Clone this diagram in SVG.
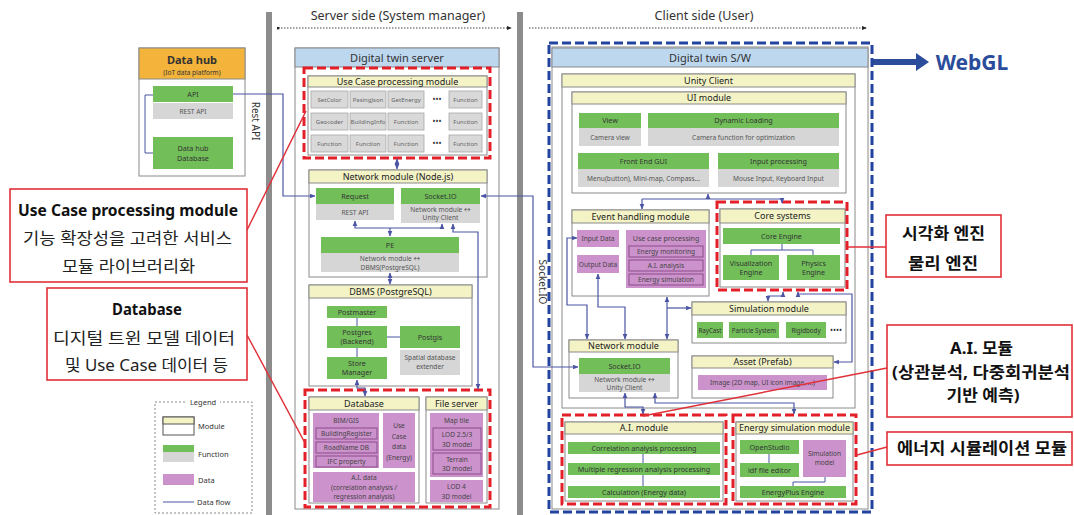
<svg xmlns="http://www.w3.org/2000/svg" width="1074" height="515" viewBox="0 0 1074 515">
<defs>
  <marker id="ar" viewBox="0 0 6 6" refX="5.5" refY="3" markerWidth="4.5" markerHeight="4.5" orient="auto-start-reverse">
    <path d="M0,0.4 L6,3 L0,5.6z" fill="#4B55A3"/>
  </marker>
  <marker id="tip" viewBox="0 0 6 6" refX="5" refY="3" markerWidth="5" markerHeight="5" orient="auto">
    <path d="M0,0.5 L6,3 L0,5.5z" fill="#222"/>
  </marker>
  <marker id="dot" viewBox="0 0 4 4" refX="2" refY="2" markerWidth="3" markerHeight="3">
    <circle cx="2" cy="2" r="2" fill="#222"/>
  </marker>
</defs>
<style>
  text{font-family:"Noto Sans","Noto Sans CJK KR",sans-serif;fill:#333;text-anchor:middle}
  .mod{fill:#fff;stroke:#8a8a8a;stroke-width:1}
  .hdr{fill:#F3F3C6;stroke:#8a8a8a;stroke-width:1}
  .blu{fill:#BDD7EE;stroke:#8a8a8a;stroke-width:1}
  .fn{fill:#72BF5A}
  .gy{fill:#D6D6D6}
  .cell{fill:#D9D9D9;stroke:#A8A8A8;stroke-width:0.8}
  .dt{fill:#CC92CC}
  .dti{fill:#CC92CC;stroke:#8B4D8B;stroke-width:1}
  .red{fill:none;stroke:#E3202A;stroke-width:3;stroke-dasharray:9 4}
  .conn{fill:none;stroke:#4B55A3;stroke-width:1.2}
  .ln{fill:none;stroke:#4B55A3;stroke-width:1}
  .co{fill:#fff;stroke:#E03038;stroke-width:1.6}
  .col{stroke:#E03038;stroke-width:1.5}
  .h{font-size:9px;fill:#222}
  .f{font-size:7.2px}
  .g{font-size:6.6px;fill:#555}
  .s{font-size:6px;fill:#666}
  .d{font-size:6.6px;fill:#444}
  .kb{font-size:16px;font-weight:700;fill:#111}
  .kr{font-size:16px;fill:#222}
</style>

<!-- side separators and headings -->
<g id="sides">
  <rect x="266" y="12" width="6" height="503" fill="#8C8C8C"/>
  <rect x="517" y="12" width="6" height="503" fill="#8C8C8C"/>
  <text x="398" y="20" style="font-size:12.5px">Server side (System manager)</text>
  <text x="704" y="20" style="font-size:12.5px">Client side (User)</text>
  <path d="M278,28 H511" stroke="#444" stroke-width="1" stroke-dasharray="1.5 1.5" fill="none" marker-start="url(#dot)" marker-end="url(#tip)"/>
  <path d="M529,28 H866" stroke="#444" stroke-width="1" stroke-dasharray="1.5 1.5" fill="none" marker-end="url(#tip)"/>
  <text transform="translate(252,121) rotate(90)" style="font-size:10px">Rest API</text>
  <text transform="translate(539,282) rotate(90)" style="font-size:10px">Socket.IO</text>
</g>

<!-- Data hub -->
<g id="data-hub">
  <rect x="139" y="48" width="106" height="128" class="mod"/>
  <rect x="139" y="48" width="106" height="31" fill="#F4B33A" stroke="#8a8a8a"/>
  <text x="192" y="64" style="font-size:11px;font-weight:700">Data hub</text>
  <text x="192" y="75" style="font-size:6.5px">(IoT data platform)</text>
  <rect x="153" y="86" width="80" height="16" class="fn"/>
  <text x="193" y="96.5" class="f">API</text>
  <rect x="153" y="103" width="80" height="16" class="gy"/>
  <text x="193" y="113.5" class="g">REST API</text>
  <rect x="153" y="137" width="80" height="32" class="fn"/>
  <text x="193" y="151" class="f">Data hub</text>
  <text x="193" y="161" class="f">Database</text>
</g>

<!-- Digital twin server -->
<g id="digital-twin-server">
  <rect x="295" y="48" width="204" height="461" class="mod"/>
  <rect x="295" y="48" width="204" height="19" class="blu"/>
  <text x="397" y="61.5" style="font-size:11px">Digital twin server</text>
</g>

<g id="use-case-module">
  <rect x="308" y="76" width="179" height="79" class="mod"/>
  <rect x="308" y="76" width="179" height="11" class="hdr"/>
  <text x="397.5" y="84.8" class="h">Use Case processing module</text>
  <g class="cells">
    <rect x="311" y="91" width="37" height="17" class="cell"/><text x="329.5" y="102" class="s">SetColor</text>
    <rect x="350" y="91" width="36" height="17" class="cell"/><text x="368" y="102" class="s">PasingJson</text>
    <rect x="388" y="91" width="36" height="17" class="cell"/><text x="406" y="102" class="s">GetEnergy</text>
    <text x="437" y="102" style="font-size:8px;fill:#333">•••</text>
    <rect x="449" y="91" width="33" height="17" class="cell"/><text x="465.5" y="102" class="s">Function</text>
    <rect x="311" y="113" width="37" height="17" class="cell"/><text x="329.5" y="124" class="s">Geocoder</text>
    <rect x="350" y="113" width="36" height="17" class="cell"/><text x="368" y="124" class="s">BuildingInfo</text>
    <rect x="388" y="113" width="36" height="17" class="cell"/><text x="406" y="124" class="s">Function</text>
    <text x="437" y="124" style="font-size:8px;fill:#333">•••</text>
    <rect x="449" y="113" width="33" height="17" class="cell"/><text x="465.5" y="124" class="s">Function</text>
    <rect x="311" y="135" width="37" height="17" class="cell"/><text x="329.5" y="146" class="s">Function</text>
    <rect x="350" y="135" width="36" height="17" class="cell"/><text x="368" y="146" class="s">Function</text>
    <rect x="388" y="135" width="36" height="17" class="cell"/><text x="406" y="146" class="s">Function</text>
    <text x="437" y="146" style="font-size:8px;fill:#333">•••</text>
    <rect x="449" y="135" width="33" height="17" class="cell"/><text x="465.5" y="146" class="s">Function</text>
  </g>
  <rect x="304" y="68" width="186" height="90" class="red"/>
</g>

<g id="network-module-server">
  <rect x="309" y="170" width="178" height="107" class="mod"/>
  <rect x="309" y="170" width="178" height="13" class="hdr"/>
  <text x="398" y="179.8" class="h">Network module (Node.js)</text>
  <rect x="316" y="188" width="78" height="16" class="fn"/>
  <text x="355" y="198.5" class="f">Request</text>
  <rect x="316" y="204" width="78" height="16" class="gy"/>
  <text x="355" y="214.5" class="g">REST API</text>
  <rect x="401" y="188" width="79" height="16" class="fn"/>
  <text x="440.5" y="198.5" class="f">Socket.IO</text>
  <rect x="401" y="204" width="79" height="19" class="gy"/>
  <text x="440.5" y="212" class="g">Network module ↔</text>
  <text x="440.5" y="220" class="g">Unity Client</text>
  <rect x="321" y="237" width="138" height="16" class="fn"/>
  <text x="390" y="247.5" class="f">PE</text>
  <rect x="321" y="253" width="138" height="19" class="gy"/>
  <text x="390" y="261" class="g">Network module ↔</text>
  <text x="390" y="269.5" class="g">DBMS(PostgreSQL)</text>
</g>

<g id="dbms">
  <rect x="309" y="285" width="163" height="101" class="mod"/>
  <rect x="309" y="285" width="163" height="13" class="hdr"/>
  <text x="390.5" y="294.8" class="h">DBMS (PostgreSQL)</text>
  <path d="M357,318 V326 M357,348 V357 M387,337 H400" class="ln"/>
  <rect x="327" y="306" width="60" height="12" class="fn"/>
  <text x="357" y="314.5" class="f">Postmaster</text>
  <rect x="327" y="326" width="60" height="22" class="fn"/>
  <text x="357" y="335" class="f">Postgres</text>
  <text x="357" y="344" class="f">(Backend)</text>
  <rect x="327" y="357" width="60" height="22" class="fn"/>
  <text x="357" y="366" class="f">Store</text>
  <text x="357" y="375" class="f">Manager</text>
  <rect x="400" y="326" width="60" height="22" class="fn"/>
  <text x="430" y="339.5" class="f">Postgis</text>
  <rect x="400" y="350" width="60" height="25" class="gy"/>
  <text x="430" y="360" class="g">Spatial database</text>
  <text x="430" y="369" class="g">extender</text>
</g>

<g id="database">
  <rect x="309" y="397" width="110" height="106" class="mod"/>
  <rect x="309" y="397" width="110" height="13" class="hdr"/>
  <text x="364" y="406.8" class="h">Database</text>
  <rect x="313" y="413" width="66" height="55" class="dt"/>
  <text x="346" y="423" class="d">BIM/GIS</text>
  <rect x="316" y="428" width="61" height="11" class="dti"/>
  <text x="346.5" y="436.2" class="d">BuildingRegister</text>
  <rect x="316" y="442" width="61" height="11" class="dti"/>
  <text x="346.5" y="450.2" class="d">RoadName DB</text>
  <rect x="316" y="456" width="61" height="11" class="dti"/>
  <text x="346.5" y="464.2" class="d">IFC property</text>
  <rect x="383" y="413" width="32" height="55" class="dt"/>
  <text x="399" y="428" class="d">Use</text>
  <text x="399" y="438.5" class="d">Case</text>
  <text x="399" y="449" class="d">data</text>
  <text x="399" y="459.5" class="d">(Energy)</text>
  <rect x="313" y="472" width="102" height="30" class="dt"/>
  <text x="364" y="480" class="d">A.I. data</text>
  <text x="364" y="489.5" class="d">(correlation analysis /</text>
  <text x="364" y="499" class="d">regression analysis)</text>
</g>

<g id="file-server">
  <rect x="426" y="397" width="61" height="106" class="mod"/>
  <rect x="426" y="397" width="61" height="13" class="hdr"/>
  <text x="456.5" y="406.8" class="h">File server</text>
  <rect x="430" y="413" width="53" height="64" class="dt"/>
  <text x="456.5" y="423" class="d">Map tile</text>
  <rect x="433" y="428" width="48" height="22" class="dti"/>
  <text x="457" y="437" class="d">LOD 2.5/3</text>
  <text x="457" y="446.5" class="d">3D model</text>
  <rect x="433" y="453" width="48" height="21" class="dti"/>
  <text x="457" y="461.5" class="d">Terrain</text>
  <text x="457" y="471" class="d">3D model</text>
  <rect x="430" y="480" width="53" height="22" class="dt"/>
  <text x="456.5" y="489" class="d">LOD 4</text>
  <text x="456.5" y="498.5" class="d">3D model</text>
</g>
<rect x="305" y="390" width="185" height="117" class="red"/>

<!-- Client side -->
<g id="digital-twin-sw">
  <rect x="552" y="47" width="316" height="462" class="mod"/>
  <rect x="552" y="48" width="316" height="19" class="blu"/>
  <text x="710" y="61.5" style="font-size:11px">Digital twin S/W</text>
  <rect x="549" y="43" width="323" height="469" fill="none" stroke="#2343A0" stroke-width="3" stroke-dasharray="9 4"/>
</g>

<g id="webgl">
  <path d="M873,62 H918" stroke="#2B4C9B" stroke-width="6"/>
  <polygon points="916,53 929,62 916,71" fill="#2B4C9B"/>
  <text x="972" y="70" style="font-size:21px;font-weight:700;fill:#2B4C9B">WebGL</text>
</g>

<g id="unity-client">
  <rect x="562" y="74" width="293" height="334" class="mod"/>
  <rect x="562" y="74" width="293" height="13" class="hdr"/>
  <text x="708.5" y="83.8" class="h">Unity Client</text>
</g>

<g id="ui-module">
  <rect x="572" y="92" width="274" height="101" class="mod"/>
  <rect x="572" y="92" width="274" height="12" class="hdr"/>
  <text x="709" y="101.2" class="h">UI module</text>
  <rect x="579" y="113" width="62" height="15" class="fn"/>
  <text x="610" y="123" class="f">View</text>
  <rect x="579" y="128" width="62" height="18" class="gy"/>
  <text x="610" y="139.5" class="g">Camera view</text>
  <rect x="648" y="113" width="191" height="15" class="fn"/>
  <text x="743.5" y="123" class="f">Dynamic Loading</text>
  <rect x="648" y="128" width="191" height="18" class="gy"/>
  <text x="743.5" y="139.5" class="g">Camera function for optimization</text>
  <rect x="578" y="153" width="131" height="16" class="fn"/>
  <text x="643.5" y="163.5" class="f">Front End GUI</text>
  <rect x="578" y="169" width="131" height="18" class="gy"/>
  <text x="643.5" y="180.5" class="g">Menu(button), Mini-map, Compass...</text>
  <rect x="718" y="153" width="121" height="16" class="fn"/>
  <text x="778.5" y="163.5" class="f">Input processing</text>
  <rect x="718" y="169" width="121" height="18" class="gy"/>
  <text x="778.5" y="180.5" class="g">Mouse Input, Keyboard Input</text>
</g>

<g id="event-handling-module">
  <rect x="572" y="210" width="137" height="86" class="mod"/>
  <rect x="572" y="210" width="137" height="13" class="hdr"/>
  <text x="640.5" y="219.8" class="h">Event handling module</text>
  <rect x="577" y="230" width="42" height="17" class="dt"/>
  <text x="598" y="241" class="d">Input Data</text>
  <rect x="577" y="255" width="42" height="18" class="dt"/>
  <text x="598" y="266.5" class="d">Output Data</text>
  <rect x="626" y="230" width="80" height="58" class="dt"/>
  <text x="666" y="240.5" class="d" style="font-size:7px">Use case processing</text>
  <rect x="629" y="246" width="74" height="11" class="dti"/>
  <text x="666" y="254.2" class="d">Energy monitoring</text>
  <rect x="629" y="260" width="74" height="11" class="dti"/>
  <text x="666" y="268.2" class="d">A.I. analysis</text>
  <rect x="629" y="274" width="74" height="11" class="dti"/>
  <text x="666" y="282.2" class="d">Energy simulation</text>
</g>

<g id="core-systems">
  <rect x="720" y="209" width="125" height="78" class="mod"/>
  <rect x="720" y="209" width="125" height="14" class="hdr"/>
  <text x="782.5" y="219.3" class="h">Core systems</text>
  <path d="M782,244 V250 M751,250 H813 M751,250 V255 M813,250 V255" class="ln"/>
  <rect x="723" y="228" width="117" height="16" class="fn"/>
  <text x="781.5" y="238.5" class="f">Core Engine</text>
  <rect x="723" y="255" width="56" height="25" class="fn"/>
  <text x="751" y="265.5" class="f">Visualization</text>
  <text x="751" y="275" class="f">Engine</text>
  <rect x="787" y="255" width="53" height="25" class="fn"/>
  <text x="813.5" y="265.5" class="f">Physics</text>
  <text x="813.5" y="275" class="f">Engine</text>
  <rect x="717" y="202" width="130" height="88" class="red"/>
</g>

<g id="simulation-module">
  <rect x="692" y="302" width="154" height="41" class="mod"/>
  <rect x="692" y="302" width="154" height="13" class="hdr"/>
  <text x="769" y="311.8" class="h">Simulation module</text>
  <rect x="697" y="322" width="26" height="16" class="fn"/>
  <text x="710" y="332.5" class="f" style="font-size:6.2px">RayCast</text>
  <rect x="729" y="322" width="50" height="16" class="fn"/>
  <text x="754" y="332.5" class="f" style="font-size:6.2px">Particle System</text>
  <rect x="786" y="322" width="40" height="16" class="fn"/>
  <text x="806" y="332.5" class="f" style="font-size:6.2px">Rigidbody</text>
  <text x="836" y="333" style="font-size:8px;fill:#333">••••</text>
</g>

<g id="asset-prefab">
  <rect x="692" y="356" width="141" height="42" class="mod"/>
  <rect x="692" y="356" width="141" height="12" class="hdr"/>
  <text x="762.5" y="365.2" class="h">Asset (Prefab)</text>
  <rect x="698" y="375" width="129" height="15" class="dt"/>
  <text x="762.5" y="385" class="d">Image (2D map, UI icon image, ...)</text>
</g>

<g id="network-module-client">
  <rect x="569" y="340" width="109" height="58" class="mod"/>
  <rect x="569" y="340" width="109" height="12" class="hdr"/>
  <text x="623.5" y="349.2" class="h">Network module</text>
  <rect x="579" y="358" width="91" height="16" class="fn"/>
  <text x="624.5" y="368.5" class="f">Socket.IO</text>
  <rect x="579" y="374" width="91" height="18" class="gy"/>
  <text x="624.5" y="382" class="g">Network module ↔</text>
  <text x="624.5" y="390" class="g">Unity Client</text>
</g>

<g id="ai-module">
  <rect x="565" y="422" width="158" height="79" class="mod"/>
  <rect x="565" y="422" width="158" height="12" class="hdr"/>
  <text x="644" y="431.2" class="h">A.I. module</text>
  <path d="M643,454 V463 M643,475 V486" class="ln"/>
  <rect x="568" y="442" width="152" height="12" class="fn"/>
  <text x="644" y="450.5" class="f">Correlation analysis processing</text>
  <rect x="568" y="463" width="152" height="12" class="fn"/>
  <text x="644" y="471.5" class="f">Multiple regression analysis processing</text>
  <rect x="568" y="486" width="152" height="12" class="fn"/>
  <text x="644" y="494.5" class="f">Calculation (Energy data)</text>
  <rect x="562" y="415" width="164" height="89" class="red"/>
</g>

<g id="energy-simulation-module">
  <rect x="736" y="422" width="117" height="79" class="mod"/>
  <rect x="736" y="422" width="117" height="12" class="hdr"/>
  <text x="794.5" y="431.2" class="h">Energy simulation module</text>
  <path d="M769,454 V463 M793,486 V482 H825 V477" class="ln"/>
  <rect x="740" y="440" width="59" height="14" class="fn"/>
  <text x="769.5" y="449.5" class="f">OpenStudio</text>
  <rect x="740" y="463" width="59" height="14" class="fn"/>
  <text x="769.5" y="472.5" class="f">idf file editor</text>
  <rect x="803" y="440" width="43" height="37" class="dt"/>
  <text x="824.5" y="456" class="d">Simulation</text>
  <text x="824.5" y="465" class="d">model</text>
  <rect x="740" y="486" width="106" height="12" class="fn"/>
  <text x="793" y="494.5" class="f">EnergyPlus Engine</text>
  <rect x="733" y="415" width="123" height="89" class="red"/>
</g>

<!-- data flow connectors -->
<g id="connectors">
  <path d="M153,95 H145 V153 H153" class="ln"/>
  <path d="M233,94 H283 V196 H315" class="conn" marker-end="url(#ar)"/>
  <path d="M397,159 V169" class="conn" marker-start="url(#ar)" marker-end="url(#ar)"/>
  <path d="M355,221 V228 H442 V224" class="conn" marker-start="url(#ar)" marker-end="url(#ar)"/>
  <path d="M390,228 V236" class="conn" marker-end="url(#ar)"/>
  <path d="M453,224 V232 H478 V389" class="conn" marker-start="url(#ar)" marker-end="url(#ar)"/>
  <path d="M390,273 V284" class="conn" marker-start="url(#ar)" marker-end="url(#ar)"/>
  <path d="M357,380 V388 H365 V396" class="conn" marker-start="url(#ar)" marker-end="url(#ar)"/>
  <path d="M481,196 H533 V367 H578" class="conn" marker-start="url(#ar)" marker-end="url(#ar)"/>
  <path d="M708,194 V199 M642,199 H782" class="conn" marker-start="url(#ar)"/>
  <path d="M642,199 V209" class="conn" marker-end="url(#ar)"/>
  <path d="M782,199 V203" class="conn" marker-end="url(#ar)"/>
  <path d="M577,238 H567 V305 H587 V339" class="conn" marker-start="url(#ar)" marker-end="url(#ar)"/>
  <path d="M598,274 V307 H625 V339" class="conn" marker-start="url(#ar)" marker-end="url(#ar)"/>
  <path d="M667,297 V339" class="conn" marker-start="url(#ar)" marker-end="url(#ar)"/>
  <path d="M667,308 H691" class="conn" marker-end="url(#ar)"/>
  <path d="M783,292 V296 H768 V301" class="conn" marker-start="url(#ar)" marker-end="url(#ar)"/>
  <path d="M798,292 V294 H852 V362 H834" class="conn" marker-start="url(#ar)" marker-end="url(#ar)"/>
  <path d="M625,393 V407 H643 V414" class="conn" marker-start="url(#ar)" marker-end="url(#ar)"/>
  <path d="M655,393 V403 H794 V414" class="conn" marker-start="url(#ar)" marker-end="url(#ar)"/>
</g>

<!-- callouts -->
<g id="callout-use-case">
  <line x1="247" y1="230" x2="306" y2="111" class="col"/>
  <rect x="10" y="189" width="237" height="93" class="co"/>
  <text x="128" y="216" class="kb" textLength="220" lengthAdjust="spacingAndGlyphs">Use Case processing module</text>
  <text x="127.5" y="244" class="kr" textLength="209" lengthAdjust="spacingAndGlyphs">기능 확장성을 고려한 서비스</text>
  <text x="128.5" y="272" class="kr" textLength="133" lengthAdjust="spacingAndGlyphs">모듈 라이브러리화</text>
</g>
<g id="callout-database">
  <line x1="247" y1="335" x2="305" y2="443" class="col"/>
  <rect x="47" y="288" width="200" height="92" class="co"/>
  <text x="147" y="315" class="kb" textLength="70" lengthAdjust="spacingAndGlyphs">Database</text>
  <text x="144" y="344" class="kr" textLength="182" lengthAdjust="spacingAndGlyphs">디지털 트윈 모델 데이터</text>
  <text x="146.5" y="371" class="kr" textLength="163" lengthAdjust="spacingAndGlyphs">및 Use Case 데이터 등</text>
</g>
<g id="callout-core">
  <line x1="886" y1="247" x2="848" y2="247" class="col"/>
  <rect x="886" y="215" width="115" height="62" class="co"/>
  <text x="943.5" y="239" class="kb" textLength="83" lengthAdjust="spacingAndGlyphs">시각화 엔진</text>
  <text x="943" y="269" class="kb" textLength="70" lengthAdjust="spacingAndGlyphs">물리 엔진</text>
</g>
<g id="callout-ai">
  <line x1="887" y1="368" x2="643" y2="416" class="col"/>
  <rect x="887" y="325" width="185" height="92" class="co"/>
  <text x="981.5" y="354" class="kb" textLength="63" lengthAdjust="spacingAndGlyphs">A.I. 모듈</text>
  <text x="981" y="378" class="kb" textLength="178" lengthAdjust="spacingAndGlyphs">(상관분석, 다중회귀분석</text>
  <text x="983" y="401" class="kb" textLength="73" lengthAdjust="spacingAndGlyphs">기반 예측)</text>
</g>
<g id="callout-energy">
  <line x1="887" y1="447" x2="857" y2="455" class="col"/>
  <rect x="887" y="432" width="185" height="33" class="co"/>
  <text x="982" y="454" class="kb" textLength="170" lengthAdjust="spacingAndGlyphs">에너지 시뮬레이션 모듈</text>
</g>

<!-- legend -->
<g id="legend">
  <rect x="155" y="402" width="97" height="111" fill="none" stroke="#888" stroke-width="1" stroke-dasharray="2 2"/>
  <rect x="186" y="397" width="34" height="10" fill="#fff"/>
  <text x="203" y="405" style="font-size:7.5px">Legend</text>
  <rect x="163" y="417" width="31" height="18" class="mod" style="stroke:#555"/>
  <rect x="163" y="417" width="31" height="7" class="hdr" style="stroke:#555"/>
  <text x="198" y="429" style="font-size:7.5px;text-anchor:start">Module</text>
  <rect x="163" y="445" width="31" height="7" class="fn"/>
  <rect x="163" y="452" width="31" height="10" class="gy"/>
  <text x="198" y="457" style="font-size:7.5px;text-anchor:start">Function</text>
  <rect x="163" y="474" width="31" height="11" class="dt"/>
  <text x="198" y="483" style="font-size:7.5px;text-anchor:start">Data</text>
  <path d="M163,502 H194" class="ln"/>
  <text x="197" y="505" style="font-size:7.5px;text-anchor:start">Data flow</text>
</g>
</svg>
